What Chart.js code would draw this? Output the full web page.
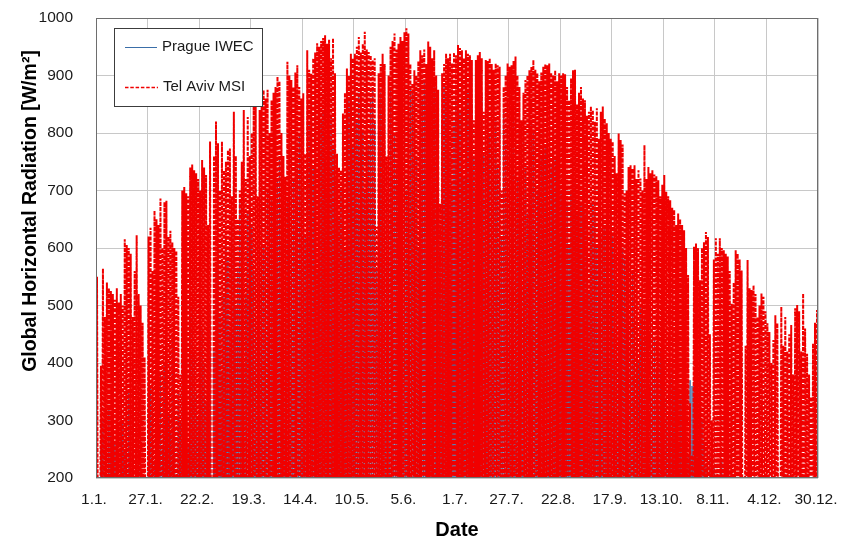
<!DOCTYPE html>
<html>
<head>
<meta charset="utf-8">
<script src="https://cdn.jsdelivr.net/npm/chart.js@4.4.1/dist/chart.umd.min.js"></script>
<style>
  html, body { margin: 0; padding: 0; background: #fff; }
  #wrap { width: 843px; height: 547px; }
</style>
</head>
<body>
<div id="wrap"><canvas id="c" width="843" height="547"></canvas></div>
<script>
// tick labels every 26 days
const dateLabels = ['1.1.', '27.1.', '22.2.', '19.3.', '14.4.', '10.5.', '5.6.', '1.7.',
  '27.7.', '22.8.', '17.9.', '13.10.', '8.11.', '4.12.', '30.12.'];

const seriesNames = ['Prague IWEC', 'Tel Aviv MSI'];
const yTitle = 'Global Horizontal Radiation [W/m²]';
const xTitle = 'Date';

// daily noon peaks, W/m2 (night values are 0)
const telAvivPeaks = [
  550, 150, 395, 564, 480, 540, 530, 525, 520, 510,
  530, 505, 520, 500, 615, 605, 600, 590, 480, 560,
  622, 520, 500, 470, 410, 150, 620, 635, 560, 665,
  650, 640, 686, 600, 680, 682, 620, 630, 610, 600,
  595, 515, 380, 700, 706, 695, 690, 740, 745, 735,
  730, 720, 700, 753, 740, 727, 640, 785, 180, 760,
  820, 782, 700, 785, 735, 750, 770, 773, 690, 837,
  760, 650, 700, 750, 840, 720, 828, 760, 800, 849,
  850, 690, 840, 860, 875, 860, 875, 800, 857, 870,
  880, 898, 890, 800, 760, 724, 924, 900, 892, 880,
  905, 918, 880, 860, 869, 764, 944, 910, 903, 930,
  940, 956, 950, 960, 965, 970, 955, 962, 930, 965,
  904, 764, 740, 735, 834, 870, 912, 900, 938, 930,
  938, 950, 967, 940, 955, 976, 945, 941, 935, 927,
  930, 637, 904, 920, 938, 920, 759, 900, 950, 960,
  973, 945, 955, 967, 960, 975, 982, 973, 920, 886,
  909, 900, 925, 944, 935, 945, 920, 959, 950, 930,
  944, 900, 875, 677, 904, 920, 938, 930, 938, 921,
  940, 935, 953, 948, 944, 930, 944, 938, 935, 927,
  822, 927, 935, 941, 930, 837, 927, 925, 930, 920,
  910, 921, 918, 915, 700, 880, 900, 921, 915, 918,
  925, 933, 900, 880, 822, 870, 892, 900, 909, 915,
  927, 910, 904, 890, 905, 915, 920, 918, 921, 905,
  900, 909, 890, 904, 900, 904, 902, 880, 857, 895,
  909, 910, 850, 870, 880, 860, 857, 830, 837, 846,
  840, 820, 843, 790, 837, 846, 825, 817, 800, 790,
  785, 760, 730, 799, 788, 780, 695, 700, 741, 744,
  738, 744, 720, 735, 721, 700, 779, 720, 741, 730,
  735, 728, 725, 718, 690, 710, 727, 698, 690, 683,
  670, 666, 640, 660, 650, 640, 631, 600, 553, 330,
  240, 602, 608, 600, 544, 600, 610, 628, 619, 450,
  300, 580, 617, 590, 617, 600, 596, 590, 585, 560,
  503, 540, 596, 590, 580, 561, 190, 430, 579, 530,
  527, 535, 520, 480, 500, 521, 515, 490, 469, 454,
  400, 440, 483, 469, 190, 498, 430, 480, 420, 450,
  466, 380, 495, 501, 490, 420, 521, 460, 416, 380,
  341, 434, 470, 492, 480
];

// Prague peaks, mostly hidden under the red series (one row per month)
const praguePeaks = [
  180, 120, 250, 300, 210, 150, 320, 280, 200, 260, 340, 150, 220, 300, 250, 180, 350, 310, 240, 160, 290, 330, 270, 200, 150, 120, 310, 360, 280, 230, 340,
  300, 380, 250, 400, 420, 310, 280, 450, 390, 200, 350, 300, 470, 380, 300, 260, 480, 500, 420, 350, 300, 520, 460, 400, 330, 540, 500, 150,
  420, 560, 600, 480, 380, 520, 620, 580, 450, 640, 600, 500, 560, 680, 620, 400, 520, 660, 700, 640, 560, 480, 650, 720, 680, 600, 500, 700, 740, 690, 620,
  560, 720, 760, 700, 640, 500, 680, 780, 760, 720, 600, 740, 800, 780, 700, 620, 760, 820, 800, 740, 680, 560, 780, 820, 840, 760, 700, 800, 830, 780,
  720, 600, 650, 700, 740, 600, 780, 860, 840, 780, 700, 820, 870, 850, 800, 700, 560, 780, 860, 880, 820, 560, 840, 870, 850, 780, 700, 820, 880, 860, 800,
  740, 840, 880, 860, 800, 700, 820, 880, 870, 820, 760, 600, 780, 860, 890, 870, 820, 740, 840, 880, 860, 800, 600, 820, 880, 870, 840, 760, 700, 820,
  860, 880, 840, 780, 720, 820, 870, 880, 850, 760, 700, 780, 860, 870, 760, 760, 680, 800, 860, 850, 820, 740, 820, 620, 840, 780, 700, 760, 840, 830, 780,
  720, 800, 740, 800, 740, 660, 780, 820, 800, 760, 700, 600, 760, 800, 780, 720, 660, 740, 780, 760, 700, 620, 700, 760, 740, 680, 600, 700, 740, 720, 660,
  600, 680, 700, 660, 600, 520, 640, 680, 660, 600, 540, 620, 660, 640, 580, 500, 600, 620, 580, 520, 440, 560, 600, 580, 520, 460, 540, 560, 520, 460,
  400, 500, 520, 480, 420, 360, 460, 480, 440, 380, 320, 420, 440, 400, 340, 300, 380, 400, 360, 300, 260, 340, 360, 320, 280, 240, 370, 360, 360, 300, 260,
  280, 300, 260, 220, 180, 240, 260, 220, 180, 150, 200, 230, 200, 170, 140, 190, 210, 180, 150, 120, 170, 190, 160, 130, 110, 160, 180, 150, 120, 100,
  150, 170, 140, 110, 90, 140, 160, 130, 100, 80, 130, 150, 120, 100, 80, 120, 140, 130, 100, 90, 120, 140, 110, 90, 80, 120, 130, 110, 100, 90, 120
];

const FONT = '"Liberation Sans", Arial, sans-serif';
const BLUE = '#3a6ea8';
const RED = '#f00000';
const DASH = [4, 1.3];

// one spike per day: night 0 -> noon peak -> night 0
function dailySeries(peaks) {
  const pts = [];
  for (let d = 0; d < peaks.length; d++) {
    pts.push({ x: d, y: 0 });
    pts.push({ x: d + 0.5, y: peaks[d] });
  }
  pts.push({ x: peaks.length, y: 0 });
  return pts;
}

// frame, rotated y title and the boxed legend inside the plot
const decor = {
  id: 'decor',
  afterDraw(chart) {
    const ctx = chart.ctx;
    const a = chart.chartArea;
    ctx.save();
    ctx.strokeStyle = '#6e6e6e';
    ctx.lineWidth = 1;
    ctx.strokeRect(Math.round(a.left) + 0.5, Math.round(a.top) + 0.5,
      Math.round(a.right - a.left) - 1, Math.round(a.bottom - a.top) - 1);

    ctx.save();
    ctx.translate(31, 211);
    ctx.rotate(-Math.PI / 2);
    ctx.font = 'bold 19.5px ' + FONT;
    ctx.fillStyle = '#000';
    ctx.textAlign = 'center';
    ctx.textBaseline = 'middle';
    ctx.fillText(yTitle, 0, 0);
    ctx.restore();

    // legend
    ctx.fillStyle = '#fff';
    ctx.fillRect(114, 28, 148, 78);
    ctx.strokeStyle = '#3c3c3c';
    ctx.strokeRect(114.5, 28.5, 148, 78);
    ctx.beginPath();
    ctx.strokeStyle = BLUE;
    ctx.lineWidth = 1;
    ctx.moveTo(125, 47.5);
    ctx.lineTo(157, 47.5);
    ctx.stroke();
    ctx.beginPath();
    ctx.strokeStyle = RED;
    ctx.lineWidth = 1.5;
    ctx.setLineDash([3.5, 1.8]);
    ctx.moveTo(125, 87.5);
    ctx.lineTo(158, 87.5);
    ctx.stroke();
    ctx.setLineDash([]);
    ctx.font = '15px ' + FONT;
    ctx.fillStyle = '#1a1a1a';
    ctx.textAlign = 'left';
    ctx.textBaseline = 'middle';
    ctx.fillText(seriesNames[0], 162, 47);
    ctx.fillText(seriesNames[1], 163, 87);
    ctx.restore();
  }
};

new Chart(document.getElementById('c'), {
  type: 'line',
  data: {
    datasets: [
      {
        label: seriesNames[0],
        data: dailySeries(praguePeaks),
        borderColor: BLUE,
        borderWidth: 1,
        order: 2
      },
      {
        label: seriesNames[1],
        data: dailySeries(telAvivPeaks),
        borderColor: RED,
        borderWidth: 2,
        borderDash: DASH,
        order: 1
      }
    ]
  },
  options: {
    responsive: false,
    animation: false,
    events: [],
    parsing: false,
    normalized: true,
    devicePixelRatio: 1,
    elements: { point: { radius: 0 }, line: { tension: 0, fill: false } },
    layout: { padding: { left: 0, right: 25, top: 18, bottom: 0 } },
    plugins: { legend: { display: false }, tooltip: { enabled: false } },
    scales: {
      x: {
        type: 'linear',
        min: 0,
        max: 364,
        grid: { color: '#c8c8c8', drawTicks: false },
        border: { display: false },
        ticks: {
          stepSize: 26,
          autoSkip: false,
          maxRotation: 0,
          padding: 12,
          labelOffset: -2,
          color: '#1a1a1a',
          font: { family: FONT, size: 15.5 },
          callback: v => dateLabels[Math.round(v / 26)]
        },
        title: {
          display: true,
          text: xTitle,
          color: '#000',
          font: { family: FONT, size: 20, weight: 'bold' },
          padding: { top: 0, bottom: 5 }
        },
        afterFit: s => { s.height = 69; s.paddingLeft = 0; s.paddingRight = 0; }
      },
      y: {
        min: 200,
        max: 1000,
        grid: { color: '#c8c8c8', drawTicks: false },
        border: { display: false },
        ticks: {
          stepSize: 100,
          padding: 23,
          color: '#1a1a1a',
          font: { family: FONT, size: 15.5 },
          callback: v => String(v)
        },
        afterFit: s => { s.width = 96; s.paddingTop = 0; s.paddingBottom = 0; }
      }
    }
  },
  plugins: [decor]
});
</script>
</body>
</html>
